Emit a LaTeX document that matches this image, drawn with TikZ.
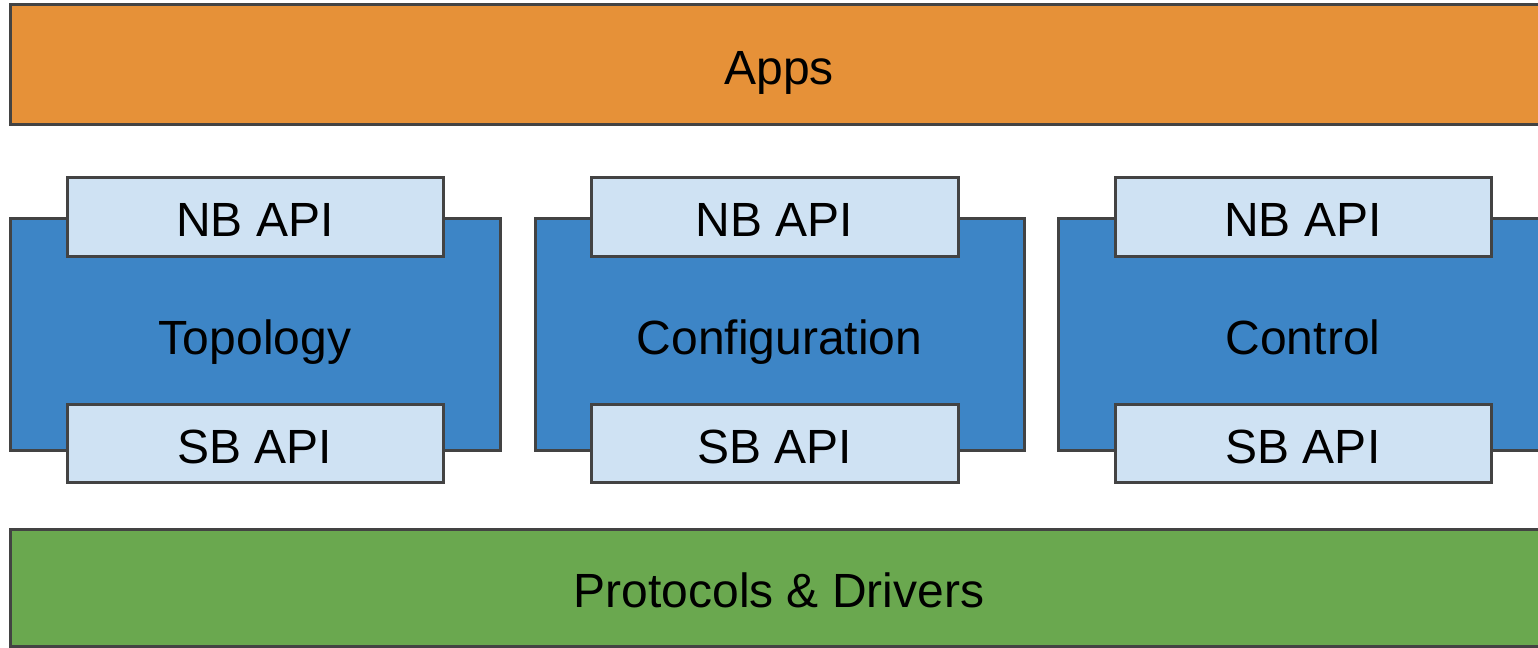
\documentclass[tikz,border=0pt]{standalone}
\usepackage{fontspec}
\setmainfont{Liberation Sans}
\definecolor{appsorange}{HTML}{E69138}
\definecolor{modblue}{HTML}{3D85C6}
\definecolor{apiblue}{HTML}{CFE2F3}
\definecolor{protogreen}{HTML}{6AA84F}
\definecolor{edgegray}{HTML}{434343}
\tikzset{
  layer/.style 2 args={draw=edgegray, line width=1.5pt, rectangle, inner sep=0pt, outer sep=0pt,
    minimum width=#1*0.5pt, minimum height=#2*0.5pt,
    font=\fontsize{24}{28}\selectfont, text=black,
    text height=21.6pt, text depth=1.4pt},
  module/.style={layer={490}{232}, fill=modblue},
  api/.style={layer={376}{79}, fill=apiblue},
}
\begin{document}
\begin{tikzpicture}[x=0.5pt, y=-0.5pt]
\useasboundingbox (0,0) rectangle (1538,648);
\clip (0,0) rectangle (1538,648);
\fill[white] (0,0) rectangle (1538,648);

% application layer
\node[layer={1538}{119.5}, fill=appsorange] (apps) at (779,64.25) {Apps};

% core modules
\node[module] (topo) at (255,334) {Topology};
\node[module, minimum width=489*0.5pt] (conf) at (779.5,334) {Configuration};
\node[module] (ctrl) at (1303,334) {Control};

% northbound / southbound interfaces
\node[api] (topoNB) at (255,216.5) {NB API};
\node[api, minimum height=78*0.5pt] (topoSB) at (255,443) {SB API};
\node[api, minimum width=367*0.5pt] (confNB) at (774.5,216.5) {NB API};
\node[api, minimum width=367*0.5pt, minimum height=78*0.5pt] (confSB) at (774.5,443) {SB API};
\node[api] (ctrlNB) at (1303,216.5) {NB API};
\node[api, minimum height=78*0.5pt] (ctrlSB) at (1303,443) {SB API};

% protocol layer
\node[layer={1538}{117}, fill=protogreen] (proto) at (779,587.5) {Protocols \& Drivers};
\end{tikzpicture}
\end{document}
